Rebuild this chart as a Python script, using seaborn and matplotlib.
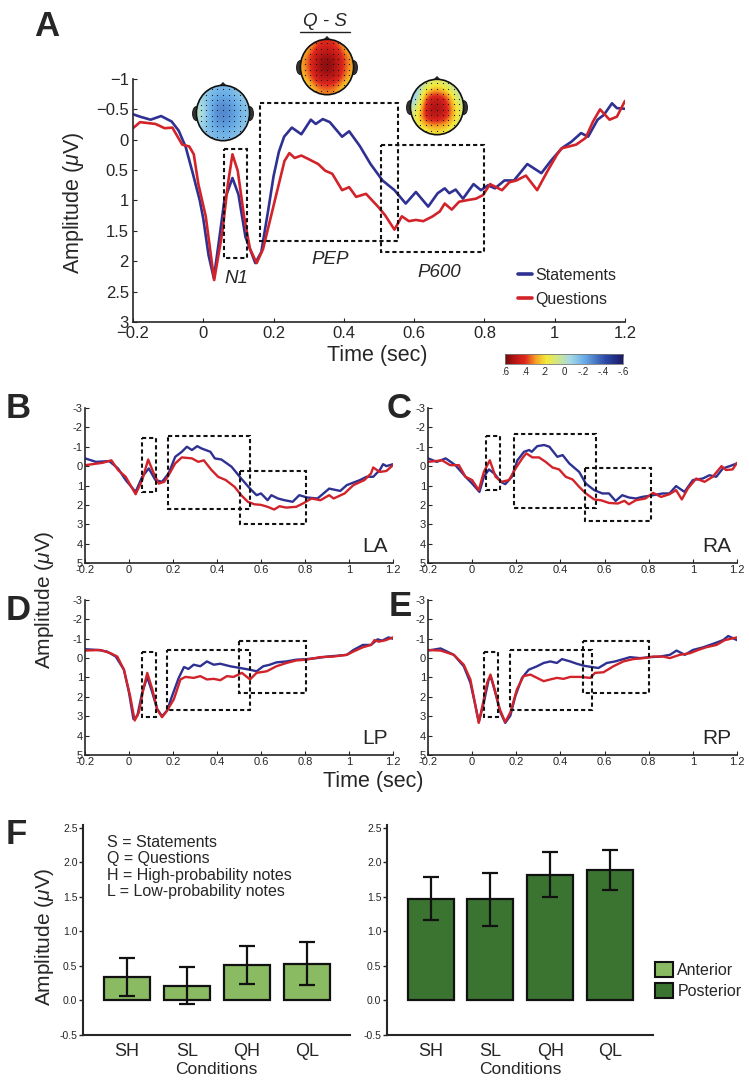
import numpy as np
import pandas as pd
import matplotlib
matplotlib.use("Agg")
import matplotlib.pyplot as plt
import seaborn as sns
from matplotlib.patches import Rectangle, Ellipse, Polygon, Patch
from matplotlib.colors import LinearSegmentedColormap, Normalize
from matplotlib.cm import ScalarMappable

# ---- data ----
# panel A (grand average)
a_time_s = [-0.2, -0.18, -0.15, -0.12, -0.09, -0.07, -0.05, -0.03, -0.01, 0.0, 0.015, 0.03, 0.045, 0.06,
            0.083, 0.1, 0.12, 0.148, 0.165, 0.185, 0.2, 0.215, 0.23, 0.252, 0.279, 0.306, 0.32, 0.34, 0.36,
            0.395, 0.415, 0.445, 0.476, 0.51, 0.544, 0.576, 0.605, 0.64, 0.667, 0.687, 0.7, 0.718, 0.739,
            0.769, 0.79, 0.81, 0.83, 0.857, 0.884, 0.922, 0.962, 0.99, 1.02, 1.048, 1.075, 1.095, 1.122,
            1.14, 1.163, 1.177, 1.2]
a_amp_s = [-0.42, -0.38, -0.33, -0.39, -0.30, -0.15, 0.12, 0.55, 1.0, 1.3, 1.9, 2.28, 1.65, 1.0,
           0.63, 0.9, 1.6, 2.03, 1.85, 1.15, 0.6, 0.2, -0.05, -0.2, -0.09, -0.33, -0.26, -0.34, -0.29,
           -0.05, -0.14, 0.1, 0.4, 0.67, 0.83, 1.05, 0.86, 1.1, 0.88, 0.8, 0.88, 0.82, 0.97,
           0.73, 0.83, 0.75, 0.8, 0.67, 0.67, 0.4, 0.55, 0.34, 0.14, 0.03, -0.11, -0.05, -0.33,
           -0.41, -0.6, -0.52, -0.51]
a_time_q = [-0.2, -0.18, -0.136, -0.11, -0.088, -0.06, -0.04, -0.027, -0.014, 0.007, 0.031, 0.054, 0.07,
            0.083, 0.098, 0.116, 0.133, 0.152, 0.17, 0.204, 0.231, 0.245, 0.26, 0.279, 0.3, 0.327, 0.347,
            0.367, 0.395, 0.415, 0.435, 0.463, 0.497, 0.517, 0.544, 0.565, 0.585, 0.605, 0.626, 0.653,
            0.673, 0.687, 0.707, 0.728, 0.755, 0.776, 0.796, 0.816, 0.85, 0.871, 0.891, 0.918, 0.95,
            0.98, 1.007, 1.02, 1.041, 1.061, 1.088, 1.109, 1.129, 1.156, 1.177, 1.2]
a_amp_q = [-0.19, -0.29, -0.26, -0.19, -0.2, 0.08, 0.11, 0.24, 0.73, 1.26, 2.31, 1.53, 0.73,
           0.24, 0.51, 1.26, 1.8, 2.03, 1.8, 0.99, 0.35, 0.22, 0.3, 0.26, 0.32, 0.4, 0.51,
           0.56, 0.83, 0.78, 0.94, 0.89, 1.1, 1.24, 1.48, 1.26, 1.34, 1.32, 1.34, 1.26,
           1.18, 1.05, 1.15, 1.02, 0.99, 0.97, 0.91, 0.73, 0.83, 0.7, 0.67, 0.59, 0.83,
           0.51, 0.24, 0.14, 0.11, 0.08, -0.03, -0.3, -0.5, -0.33, -0.38, -0.64]

# panel B (LA)
b_time_s = [-0.2, -0.15, -0.09, -0.05, -0.015, 0.03, 0.06, 0.09, 0.12, 0.15, 0.18, 0.21, 0.24, 0.263,
            0.286, 0.31, 0.33, 0.37, 0.39, 0.42, 0.466, 0.51, 0.55, 0.58, 0.6, 0.63, 0.647, 0.677, 0.707,
            0.744, 0.774, 0.81, 0.857, 0.91, 0.96, 0.99, 1.05, 1.08, 1.11, 1.14, 1.155, 1.17, 1.2]
b_amp_s = [-0.4, -0.22, -0.26, 0.12, 0.72, 1.33, 0.55, 0.12, 0.72, 0.81, 0.38, -0.48, -0.74, -1.0,
           -0.83, -1.03, -0.91, -0.74, -0.4, -0.34, 0.03, 0.64, 1.16, 1.5, 1.41, 1.76, 1.5, 1.67, 1.76,
           1.84, 1.5, 1.62, 1.67, 1.16, 1.28, 0.98, 0.72, 0.55, 0.55, 0.2, -0.1, 0.0, -0.1]
b_time_q = [-0.2, -0.12, -0.08, -0.05, -0.015, 0.03, 0.06, 0.087, 0.11, 0.135, 0.16, 0.18, 0.21, 0.24,
            0.286, 0.315, 0.34, 0.375, 0.405, 0.44, 0.48, 0.51, 0.54, 0.57, 0.6, 0.63, 0.66, 0.684, 0.714,
            0.76, 0.79, 0.83, 0.87, 0.91, 0.93, 0.98, 1.02, 1.07, 1.1, 1.11, 1.14, 1.17, 1.2]
b_amp_q = [-0.05, -0.17, -0.3, 0.2, 0.55, 1.45, 0.72, -0.34, 0.3, 0.9, 0.81, 0.47, -0.14, -0.45,
           -0.4, -0.22, -0.3, 0.2, 0.55, 0.72, 1.07, 1.5, 1.84, 1.97, 2.0, 2.1, 2.24, 2.07, 2.14,
           2.1, 1.93, 1.67, 1.76, 1.5, 1.67, 1.41, 0.98, 0.72, 0.38, 0.07, 0.3, 0.25, -0.05]

# panel C (RA)
c_time_s = [-0.2, -0.16, -0.12, -0.076, -0.03, 0.0, 0.033, 0.053, 0.076, 0.1, 0.13, 0.15, 0.18, 0.205,
            0.235, 0.258, 0.27, 0.295, 0.326, 0.35, 0.386, 0.41, 0.44, 0.485, 0.515, 0.553, 0.59, 0.62,
            0.65, 0.68, 0.71, 0.742, 0.77, 0.82, 0.864, 0.894, 0.924, 0.962, 1.0, 1.045, 1.075, 1.106,
            1.136, 1.167, 1.2]
c_amp_s = [-0.4, -0.22, -0.4, -0.05, 0.55, 0.9, 1.33, 0.55, 0.17, 0.38, 0.81, 0.93, 0.55, -0.3,
           -0.74, -0.83, -0.74, -1.03, -1.09, -1.0, -0.48, -0.57, -0.14, 0.3, 0.9, 1.24, 1.41, 1.41,
           1.8, 1.5, 1.62, 1.67, 1.59, 1.5, 1.41, 1.41, 1.03, 1.33, 0.72, 0.64, 0.47, 0.55,
           0.12, 0.0, -0.14]
c_time_q = [-0.2, -0.136, -0.1, -0.06, -0.03, 0.0, 0.03, 0.053, 0.08, 0.106, 0.133, 0.167, 0.197, 0.227,
            0.245, 0.273, 0.303, 0.333, 0.364, 0.394, 0.424, 0.455, 0.485, 0.515, 0.553, 0.583, 0.62,
            0.66, 0.69, 0.71, 0.742, 0.785, 0.82, 0.856, 0.894, 0.924, 0.95, 0.977, 1.015, 1.053, 1.09,
            1.13, 1.15, 1.18, 1.2]
c_amp_q = [-0.22, -0.3, -0.05, -0.05, 0.55, 0.72, 1.24, 0.3, -0.3, 0.55, 0.81, 0.72, 0.12, -0.4,
           -0.66, -0.45, -0.45, -0.22, 0.07, 0.17, 0.55, 0.69, 1.07, 1.41, 1.72, 1.76, 1.9,
           1.93, 1.79, 1.97, 1.76, 1.67, 1.38, 1.59, 1.45, 1.24, 1.72, 1.16, 0.64, 0.81, 0.55,
           0.0, 0.2, 0.17, -0.17]

# panel D (LP)
d_time_s = [-0.2, -0.14, -0.1, -0.06, -0.023, 0.0, 0.02, 0.038, 0.06, 0.083, 0.106, 0.128, 0.15, 0.173,
            0.196, 0.226, 0.25, 0.27, 0.294, 0.324, 0.354, 0.385, 0.415, 0.46, 0.505, 0.55, 0.58, 0.61,
            0.64, 0.67, 0.716, 0.76, 0.807, 0.852, 0.9, 0.943, 0.99, 1.02, 1.063, 1.1, 1.13, 1.15, 1.18,
            1.2]
d_amp_s = [-0.46, -0.42, -0.34, -0.08, 0.6, 1.78, 3.14, 2.97, 1.78, 0.97, 1.78, 2.63, 3.0, 2.71,
           1.95, 1.02, 0.46, 0.56, 0.34, 0.42, 0.17, 0.34, 0.29, 0.42, 0.51, 0.6, 0.68, 0.42,
           0.34, 0.22, 0.17, 0.08, 0.05, 0.0, -0.08, -0.12, -0.17, -0.42, -0.68, -0.68, -0.97, -0.9, -1.07,
           -1.0]
d_time_q = [-0.2, -0.13, -0.083, -0.053, -0.023, 0.005, 0.026, 0.045, 0.065, 0.083, 0.106, 0.128, 0.15,
            0.173, 0.204, 0.234, 0.256, 0.294, 0.324, 0.354, 0.385, 0.415, 0.445, 0.475, 0.513, 0.55,
            0.58, 0.626, 0.67, 0.716, 0.76, 0.807, 0.867, 0.928, 0.99, 1.02, 1.063, 1.1, 1.116, 1.135,
            1.165, 1.2]
d_amp_q = [-0.39, -0.42, -0.25, -0.08, 0.6, 1.95, 3.22, 2.8, 1.61, 0.76, 1.61, 2.63, 3.05,
           2.71, 2.12, 1.1, 0.97, 1.02, 0.93, 1.1, 1.07, 1.14, 0.93, 0.97, 0.76, 1.1,
           0.76, 0.68, 0.42, 0.25, 0.12, 0.08, -0.05, -0.08, -0.17, -0.34, -0.56, -0.68, -0.93, -0.85,
           -0.92, -1.07]

# panel E (RP)
e_time_s = [-0.2, -0.143, -0.083, -0.038, -0.008, 0.015, 0.03, 0.053, 0.075, 0.086, 0.105, 0.128, 0.15,
            0.173, 0.196, 0.226, 0.256, 0.294, 0.324, 0.354, 0.384, 0.407, 0.444, 0.474, 0.505, 0.542,
            0.572, 0.61, 0.648, 0.685, 0.715, 0.76, 0.806, 0.85, 0.896, 0.926, 0.964, 1.0, 1.047, 1.09,
            1.137, 1.16, 1.2]
e_amp_s = [-0.39, -0.5, -0.17, 0.42, 1.27, 2.46, 3.3, 2.29, 1.1, 1.02, 1.78, 2.8, 3.34,
           2.97, 1.95, 1.02, 0.6, 0.42, 0.25, 0.17, 0.25, 0.05, 0.17, 0.29, 0.39, 0.46,
           0.51, 0.25, 0.17, 0.05, -0.05, 0.0, -0.05, -0.08, -0.17, -0.39, -0.17, -0.42, -0.56, -0.73,
           -0.93, -1.14, -0.93]
e_time_q = [-0.2, -0.143, -0.083, -0.038, -0.008, 0.015, 0.03, 0.053, 0.068, 0.083, 0.1, 0.125, 0.15,
            0.173, 0.203, 0.233, 0.264, 0.294, 0.324, 0.354, 0.384, 0.414, 0.444, 0.49, 0.535, 0.557,
            0.595, 0.64, 0.685, 0.73, 0.776, 0.82, 0.866, 0.896, 0.94, 0.986, 1.024, 1.06, 1.107, 1.145,
            1.2]
e_amp_q = [-0.42, -0.39, -0.17, 0.34, 1.1, 2.46, 3.34, 2.12, 1.27, 0.85, 1.53, 2.63, 3.3,
           2.8, 1.61, 0.93, 0.85, 1.02, 1.19, 1.1, 1.02, 1.07, 0.97, 0.97, 1.02, 0.76,
           0.73, 0.42, 0.17, 0.05, 0.0, -0.08, -0.08, 0.0, -0.17, -0.25, -0.42, -0.56, -0.68, -0.93,
           -1.07]

# analysis windows [t0, t1, amp_top, amp_bottom] per panel: N1, PEP, P600
a_windows = [[0.06, 0.125, 0.15, 1.94], [0.16, 0.555, -0.6, 1.66], [0.505, 0.8, 0.08, 1.85]]
b_windows = [[0.06, 0.123, -1.43, 1.33], [0.176, 0.55, -1.55, 2.19], [0.504, 0.805, 0.24, 2.97]]
c_windows = [[0.064, 0.127, -1.55, 1.24], [0.19, 0.56, -1.66, 2.16], [0.51, 0.81, 0.12, 2.83]]
d_windows = [[0.06, 0.124, -0.34, 3.05], [0.173, 0.55, -0.42, 2.66], [0.502, 0.804, -0.9, 1.81]]
e_windows = [[0.053, 0.116, -0.34, 3.05], [0.17, 0.545, -0.42, 2.66], [0.5, 0.8, -0.9, 1.81]]

# scalp maps of the Q - S difference (front of head = first row)
topo_n1 = [[-0.08, -0.15, -0.18, -0.15, -0.08],
           [-0.05, -0.22, -0.28, -0.22, -0.12],
           [0.02, -0.25, -0.32, -0.25, -0.15],
           [-0.05, -0.22, -0.27, -0.22, -0.12],
           [-0.10, -0.15, -0.18, -0.15, -0.10]]
topo_pep = [[0.18, 0.36, 0.42, 0.36, 0.18],
            [0.28, 0.50, 0.56, 0.50, 0.28],
            [0.28, 0.52, 0.60, 0.52, 0.28],
            [0.24, 0.46, 0.52, 0.46, 0.24],
            [0.12, 0.28, 0.32, 0.28, 0.12]]
topo_p600 = [[-0.15, 0.05, 0.15, 0.05, -0.05],
             [-0.20, 0.40, 0.45, 0.35, 0.00],
             [0.00, 0.48, 0.58, 0.45, 0.10],
             [0.10, 0.48, 0.48, 0.42, 0.10],
             [0.05, 0.15, 0.20, 0.15, 0.05]]

# panel F bar data
conditions = ["SH", "SL", "QH", "QL"]
anterior_mean = [0.34, 0.215, 0.515, 0.535]
anterior_low = [0.065, -0.05, 0.235, 0.225]
anterior_high = [0.61, 0.485, 0.795, 0.845]
posterior_mean = [1.475, 1.465, 1.825, 1.895]
posterior_low = [1.16, 1.085, 1.495, 1.605]
posterior_high = [1.79, 1.85, 2.155, 2.185]

# ---- style ----
sns.set_style("ticks")
plt.rcParams["font.family"] = ["Liberation Sans", "DejaVu Sans"]
plt.rcParams["mathtext.fontset"] = "custom"
plt.rcParams["mathtext.it"] = "Liberation Sans:italic"
plt.rcParams["mathtext.rm"] = "Liberation Sans"

W, H = 749, 1082
fig = plt.figure(figsize=(W / 100, H / 100), dpi=100)
pal = {"Statements": "#2e3192", "Questions": "#d2232a"}
box_ls = (0, (2.0, 1.4))


def add_ax(l, t, r, b):
    return fig.add_axes([l / W, 1 - b / H, (r - l) / W, (b - t) / H])


def wave_panel(ax, ts, vs, tq, vq, windows, ylim, yticks, ylabels, xlabels, tick_fs, lw):
    df = pd.concat([
        pd.DataFrame({"Time": ts, "Amp": vs, "Cond": "Statements"}),
        pd.DataFrame({"Time": tq, "Amp": vq, "Cond": "Questions"}),
    ])
    sns.lineplot(data=df, x="Time", y="Amp", hue="Cond", palette=pal, estimator=None,
                 linewidth=lw, ax=ax, legend=False)
    for t0, t1, y0, y1 in windows:
        ax.add_patch(Rectangle((t0, y0), t1 - t0, y1 - y0, fill=False, ec="#111111",
                               lw=1.5, ls=box_ls, zorder=5))
    ax.set_xlim(-0.2, 1.2)
    ax.set_ylim(ylim)
    ax.set_xticks([-0.2, 0, 0.2, 0.4, 0.6, 0.8, 1.0, 1.2])
    ax.set_xticklabels(xlabels, fontsize=tick_fs)
    ax.set_yticks(yticks)
    ax.set_yticklabels(ylabels, fontsize=tick_fs)
    ax.set_xlabel("")
    ax.set_ylabel("")
    ax.tick_params(direction="in", length=3, width=0.8, pad=1.5)
    sns.despine(ax=ax)
    for s in ["left", "bottom"]:
        ax.spines[s].set_linewidth(1.2)


# ---- panel A ----
axA = add_ax(133, 79, 625, 322)
wave_panel(axA, a_time_s, a_amp_s, a_time_q, a_amp_q, a_windows, (3, -1),
           [-1, -0.5, 0, 0.5, 1, 1.5, 2, 2.5, 3],
           ["\u22121", "\u22120.5", "0", "0.5", "1", "1.5", "2", "2.5", "3"],
           ["\u22120.2", "0", "0.2", "0.4", "0.6", "0.8", "1", "1.2"], 12, 1.9)
axA.tick_params(pad=3)
for txt, tx, ty in [("N1", 0.095, 2.28), ("PEP", 0.36, 1.97), ("P600", 0.67, 2.18)]:
    axA.text(tx, ty, txt, style="italic", fontsize=13.5, ha="center", va="center")
handles = [plt.Line2D([], [], color=pal[k], lw=2.6) for k in ["Statements", "Questions"]]
axA.legend(handles, ["Statements", "Questions"], loc="upper left", frameon=False,
           bbox_to_anchor=(518 / W, 1 - 268 / H), bbox_transform=fig.transFigure,
           borderaxespad=0, borderpad=0, handlelength=0.9, handletextpad=0.2,
           labelspacing=0.55, fontsize=11.5)
fig.text(73 / W, 1 - 203 / H, "Amplitude ($\\mu$V)", rotation=90, ha="center", va="center", fontsize=15.5)
fig.text(377 / W, 1 - 356 / H, "Time (sec)", ha="center", va="center", fontsize=15.5)

# scalp maps
topo_cmap = LinearSegmentedColormap.from_list("topo", [
    (0.0, "#1a1a66"), (0.15, "#2c4aa8"), (0.33, "#6aaee8"), (0.45, "#a6dae6"), (0.55, "#cfe68a"),
    (0.65, "#f3e93a"), (0.74, "#f5a023"), (0.83, "#e0281e"), (0.93, "#b01414"), (1.0, "#6a0a0a")])
norm = Normalize(vmin=-0.6, vmax=0.6)


def draw_topo(cx, cy, size, grid):
    ax = add_ax(cx - size / 2, cy - size / 2, cx + size / 2, cy + size / 2)
    ax.set_xlim(-1.3, 1.3)
    ax.set_ylim(-1.3, 1.3)
    ax.axis("off")
    for sx in (-1, 1):
        ax.add_patch(Ellipse((sx * 0.97, -0.02), 0.26, 0.5, fc="#333333", ec="#111111", lw=0.6, zorder=1))
    ax.add_patch(Polygon([[-0.12, 0.97], [0.0, 1.1], [0.12, 0.97]], closed=True,
                         fc="#333333", ec="#111111", lw=0.6, zorder=1))
    head = Ellipse((0, 0), 1.92, 2.0, fc="none", ec="#111111", lw=1.2, zorder=4)
    im = ax.imshow(np.array(grid), cmap=topo_cmap, norm=norm, interpolation="bicubic",
                   extent=(-0.96, 0.96, -1.0, 1.0), origin="upper", zorder=2)
    clip = Ellipse((0, 0), 1.92, 2.0, transform=ax.transData)
    im.set_clip_path(clip)
    ax.add_patch(head)
    gx, gy = np.meshgrid(np.linspace(-0.8, 0.8, 9), np.linspace(-0.85, 0.85, 10))
    inside = (gx / 0.9) ** 2 + (gy / 0.95) ** 2 <= 1
    ax.scatter(gx[inside], gy[inside], s=0.7, c="#111111", zorder=3, linewidths=0)


draw_topo(223, 113, 72, topo_n1)
draw_topo(327, 67, 72, topo_pep)
draw_topo(437, 107, 72, topo_p600)
fig.text(325 / W, 1 - 21 / H, "Q - S", style="italic", ha="center", va="center", fontsize=13.5)
fig.add_artist(plt.Line2D([300 / W, 350 / W], [1 - 32 / H, 1 - 32 / H], color="#222222", lw=1.0))

# colour bar
cax = add_ax(505, 354, 623, 364)
cb = fig.colorbar(ScalarMappable(norm=norm, cmap=topo_cmap), cax=cax, orientation="horizontal")
cax.invert_xaxis()
cb.set_ticks([0.6, 0.4, 0.2, 0, -0.2, -0.4, -0.6])
cb.set_ticklabels([".6", ".4", ".2", "0", "-.2", "-.4", "-.6"])
cax.tick_params(axis="x", direction="in", length=2, width=0.6, top=True, bottom=False,
                labelbottom=True, labelsize=7, pad=2)
cb.outline.set_linewidth(0.6)
cb.outline.set_edgecolor("#777777")

# ---- panels B-E ----
small_y = [-3, -2, -1, 0, 1, 2, 3, 4, 5]
small_yl = ["-3", "-2", "-1", "0", "1", "2", "3", "4", "5"]
small_xl = ["-0.2", "0", "0.2", "0.4", "0.6", "0.8", "1", "1.2"]
panels = [
    ((85, 408, 393, 563), b_time_s, b_amp_s, b_time_q, b_amp_q, b_windows, "LA"),
    ((428, 408, 737, 563), c_time_s, c_amp_s, c_time_q, c_amp_q, c_windows, "RA"),
    ((85, 600, 393, 755), d_time_s, d_amp_s, d_time_q, d_amp_q, d_windows, "LP"),
    ((428, 600, 737, 755), e_time_s, e_amp_s, e_time_q, e_amp_q, e_windows, "RP"),
]
for box, ts, vs, tq, vq, win, name in panels:
    ax = add_ax(*box)
    wave_panel(ax, ts, vs, tq, vq, win, (5, -3), small_y, small_yl, small_xl, 8, 1.7)
    ax.text(1.175, 4.15, name, ha="right", va="center", fontsize=15)

fig.text(45 / W, 1 - 600 / H, "Amplitude ($\\mu$V)", rotation=90, ha="center", va="center", fontsize=15)
fig.text(373 / W, 1 - 781 / H, "Time (sec)", ha="center", va="center", fontsize=15.5)

# ---- panel F ----
light_green = "#8aba62"
dark_green = "#3b7431"


def bar_panel(ax, mean, low, high, color):
    sns.barplot(x=conditions, y=mean, color=color, edgecolor="#111111", linewidth=1.6,
                width=0.77, ax=ax, errorbar=None, saturation=1)
    yerr = [np.array(mean) - np.array(low), np.array(high) - np.array(mean)]
    ax.errorbar(range(len(conditions)), mean, yerr=yerr, fmt="none", ecolor="#111111",
                elinewidth=1.6, capsize=5.5, capthick=1.6, zorder=5)
    ax.set_xlim(-0.73, 3.72)
    ax.set_ylim(-0.5, 2.55)
    ax.set_yticks([-0.5, 0, 0.5, 1.0, 1.5, 2.0, 2.5])
    ax.set_yticklabels(["-0.5", "0.0", "0.5", "1.0", "1.5", "2.0", "2.5"], fontsize=7.5)
    ax.tick_params(axis="y", direction="out", length=3, width=1.0, pad=1)
    ax.tick_params(axis="x", length=0, labelsize=13, pad=6)
    ax.set_xlabel("Conditions", fontsize=12.5, labelpad=1)
    ax.set_ylabel("")
    sns.despine(ax=ax)
    for s in ["left", "bottom"]:
        ax.spines[s].set_linewidth(1.5)


axF1 = add_ax(83, 824.5, 350, 1035)
bar_panel(axF1, anterior_mean, anterior_low, anterior_high, light_green)
axF2 = add_ax(387, 824.5, 653, 1035)
bar_panel(axF2, posterior_mean, posterior_low, posterior_high, dark_green)

fig.text(107 / W, 1 - 835 / H,
         "S = Statements\nQ = Questions\nH = High-probability notes\nL = Low-probability notes",
         ha="left", va="top", fontsize=11.5, linespacing=1.12)
fig.text(44 / W, 1 - 937 / H, "Amplitude ($\\mu$V)", rotation=90, ha="center", va="center", fontsize=15)
leg_handles = [Patch(facecolor=light_green, edgecolor="#111111", lw=1.5),
               Patch(facecolor=dark_green, edgecolor="#111111", lw=1.5)]
fig.legend(leg_handles, ["Anterior", "Posterior"], loc="upper left", frameon=False,
           bbox_to_anchor=(655 / W, 1 - 962 / H), borderaxespad=0, borderpad=0,
           handlelength=1.1, handleheight=1.1, handletextpad=0.3, labelspacing=0.3, fontsize=11.5)

# ---- panel letters ----
for letter, lx, ly in [("A", 47, 27), ("B", 18, 408), ("C", 399, 408), ("D", 18, 611),
                       ("E", 400, 607), ("F", 16, 835)]:
    fig.text(lx / W, 1 - ly / H, letter, fontsize=25, fontweight="bold", ha="center", va="center")

fig.savefig("out.png", dpi=100)
